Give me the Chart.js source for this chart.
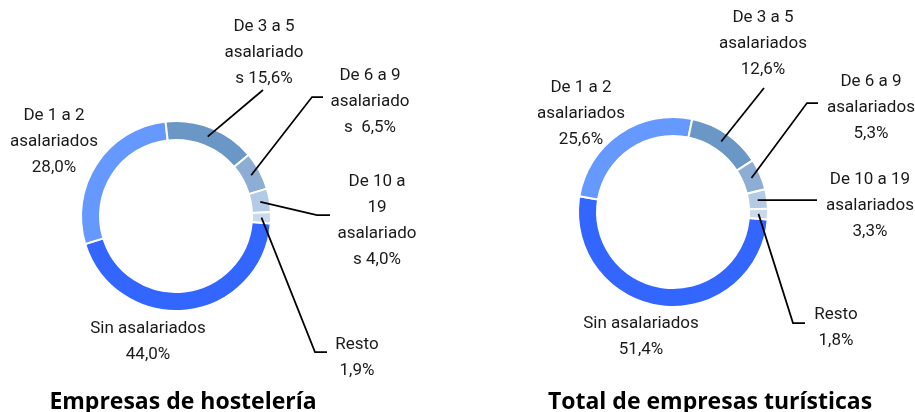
<!DOCTYPE html>
<html>
<head>
<meta charset="utf-8">
<script src="https://cdn.jsdelivr.net/npm/chart.js@4.4.1/dist/chart.umd.min.js"></script>
<style>
  html, body { margin: 0; padding: 0; background: #fff; overflow: hidden; }
  .box { position: absolute; top: 0; height: 412px; }
  #box1 { left: 0; width: 460px; }
  #box2 { left: 460px; width: 455px; }
</style>
</head>
<body>
<div class="box" id="box1"><canvas id="hosteleriaChart"></canvas></div>
<div class="box" id="box2"><canvas id="turisticasChart"></canvas></div>
<script>
// data
const categories = ['Sin asalariados', 'De 1 a 2 asalariados', 'De 3 a 5 asalariados',
  'De 6 a 9 asalariados', 'De 10 a 19 asalariados', 'Resto']
const hosteleriaValues = [44.0, 28.0, 15.6, 6.5, 4.0, 1.9]
const turisticasValues = [51.4, 25.6, 12.6, 5.3, 3.3, 1.8]
const titles = ['Empresas de hostelería', 'Total de empresas turísticas']

// label text as wrapped in the original, {v} is replaced by the value
const hosteleriaLines = [
  ['Sin asalariados', '{v}'],
  ['De 1 a 2', 'asalariados', '{v}'],
  ['De 3 a 5', 'asalariado', 's {v}'],
  ['De 6 a 9', 'asalariado', 's  {v}'],
  ['De 10 a', '19', 'asalariado', 's {v}'],
  ['Resto', '{v}'],
]
const turisticasLines = [
  ['Sin asalariados', '{v}'],
  ['De 1 a 2', 'asalariados', '{v}'],
  ['De 3 a 5', 'asalariados', '{v}'],
  ['De 6 a 9', 'asalariados', '{v}'],
  ['De 10 a 19', 'asalariados', '{v}'],
  ['Resto', '{v}'],
]

const colors = ['#3366ff', '#6699ff', '#6b97c7', '#8dadd5', '#b4cbe5', '#cbd9ec']

// layout: label centre (first line) and leader line points, relative to the ring centre
const hosteleriaLayout = {
  padding: { left: 0, right: 108, top: 20, bottom: 0 },
  titleX: 183,
  labels: [[-28, 113], [-122, -100], [88, -189], [194, -140], [201, -34], [181, 129]],
  leaders: [null, null, [[87, -126]], [[136, -119], [147, -119]], [[141, -1], [154, -1]], [[139, 136], [151, 136]]],
}
const turisticasLayout = {
  padding: { left: 0, right: 29, top: 12, bottom: 0 },
  titleX: 250,
  labels: [[-32, 112], [-92, -124], [90, -194], [198, -130], [197, -32], [163, 103]],
  leaders: [null, null, [[91, -124]], [[134, -109], [145, -109]], [[144, -12]], [[120, 111], [132, 111]]],
}

const formatValue = (v) => v.toFixed(1).replace('.', ',') + '%'

const outsideLabels = {
  id: 'outsideLabels',
  afterDatasetsDraw(chart, args, opts) {
    const ctx = chart.ctx
    const meta = chart.getDatasetMeta(0)
    const values = chart.data.datasets[0].data
    ctx.save()
    meta.data.forEach((arc, i) => {
      const p = arc.getProps(['x', 'y', 'startAngle', 'endAngle', 'innerRadius', 'outerRadius'], true)
      const cx = p.x
      const cy = p.y
      const leader = opts.leaders[i]
      if (leader) {
        const mid = (p.startAngle + p.endAngle) / 2
        const r = (p.innerRadius + p.outerRadius) / 2
        ctx.beginPath()
        ctx.moveTo(cx + Math.cos(mid) * r, cy + Math.sin(mid) * r)
        leader.forEach((pt) => ctx.lineTo(cx + pt[0], cy + pt[1]))
        ctx.strokeStyle = '#000'
        ctx.lineWidth = 1.75
        ctx.stroke()
      }
      const pos = opts.labels[i]
      ctx.fillStyle = '#1a1a1a'
      ctx.font = '17px Roboto, sans-serif'
      ctx.textAlign = 'center'
      ctx.textBaseline = 'middle'
      opts.lines[i].forEach((line, k) => {
        const text = line.replace('{v}', formatValue(values[i]))
        ctx.fillText(text, cx + pos[0], cy + pos[1] + k * 26)
      })
    })
    ctx.fillStyle = '#000'
    ctx.font = 'bold 23px "Open Sans", sans-serif'
    ctx.textAlign = 'center'
    ctx.textBaseline = 'alphabetic'
    ctx.fillText(opts.title, opts.titleX, 409)
    ctx.restore()
  },
}

function createDoughnut(id, values, lines, layout, title) {
  const canvas = document.getElementById(id)
  if (!canvas) return null

  return new Chart(canvas, {
    type: 'doughnut',
    data: {
      labels: categories,
      datasets: [
        {
          data: values,
          backgroundColor: colors,
          borderColor: '#ffffff',
          borderWidth: 2,
          radius: 95,
        },
      ],
    },
    options: {
      responsive: true,
      maintainAspectRatio: false,
      animation: false,
      events: [],
      cutout: '80%',
      rotation: 94.5,
      layout: { padding: layout.padding },
      plugins: {
        legend: { display: false },
        tooltip: { enabled: false },
        outsideLabels: {
          labels: layout.labels,
          leaders: layout.leaders,
          lines: lines,
          title: title,
          titleX: layout.titleX,
        },
      },
    },
    plugins: [outsideLabels],
  })
}

createDoughnut('hosteleriaChart', hosteleriaValues, hosteleriaLines, hosteleriaLayout, titles[0])
createDoughnut('turisticasChart', turisticasValues, turisticasLines, turisticasLayout, titles[1])
</script>
</body>
</html>
